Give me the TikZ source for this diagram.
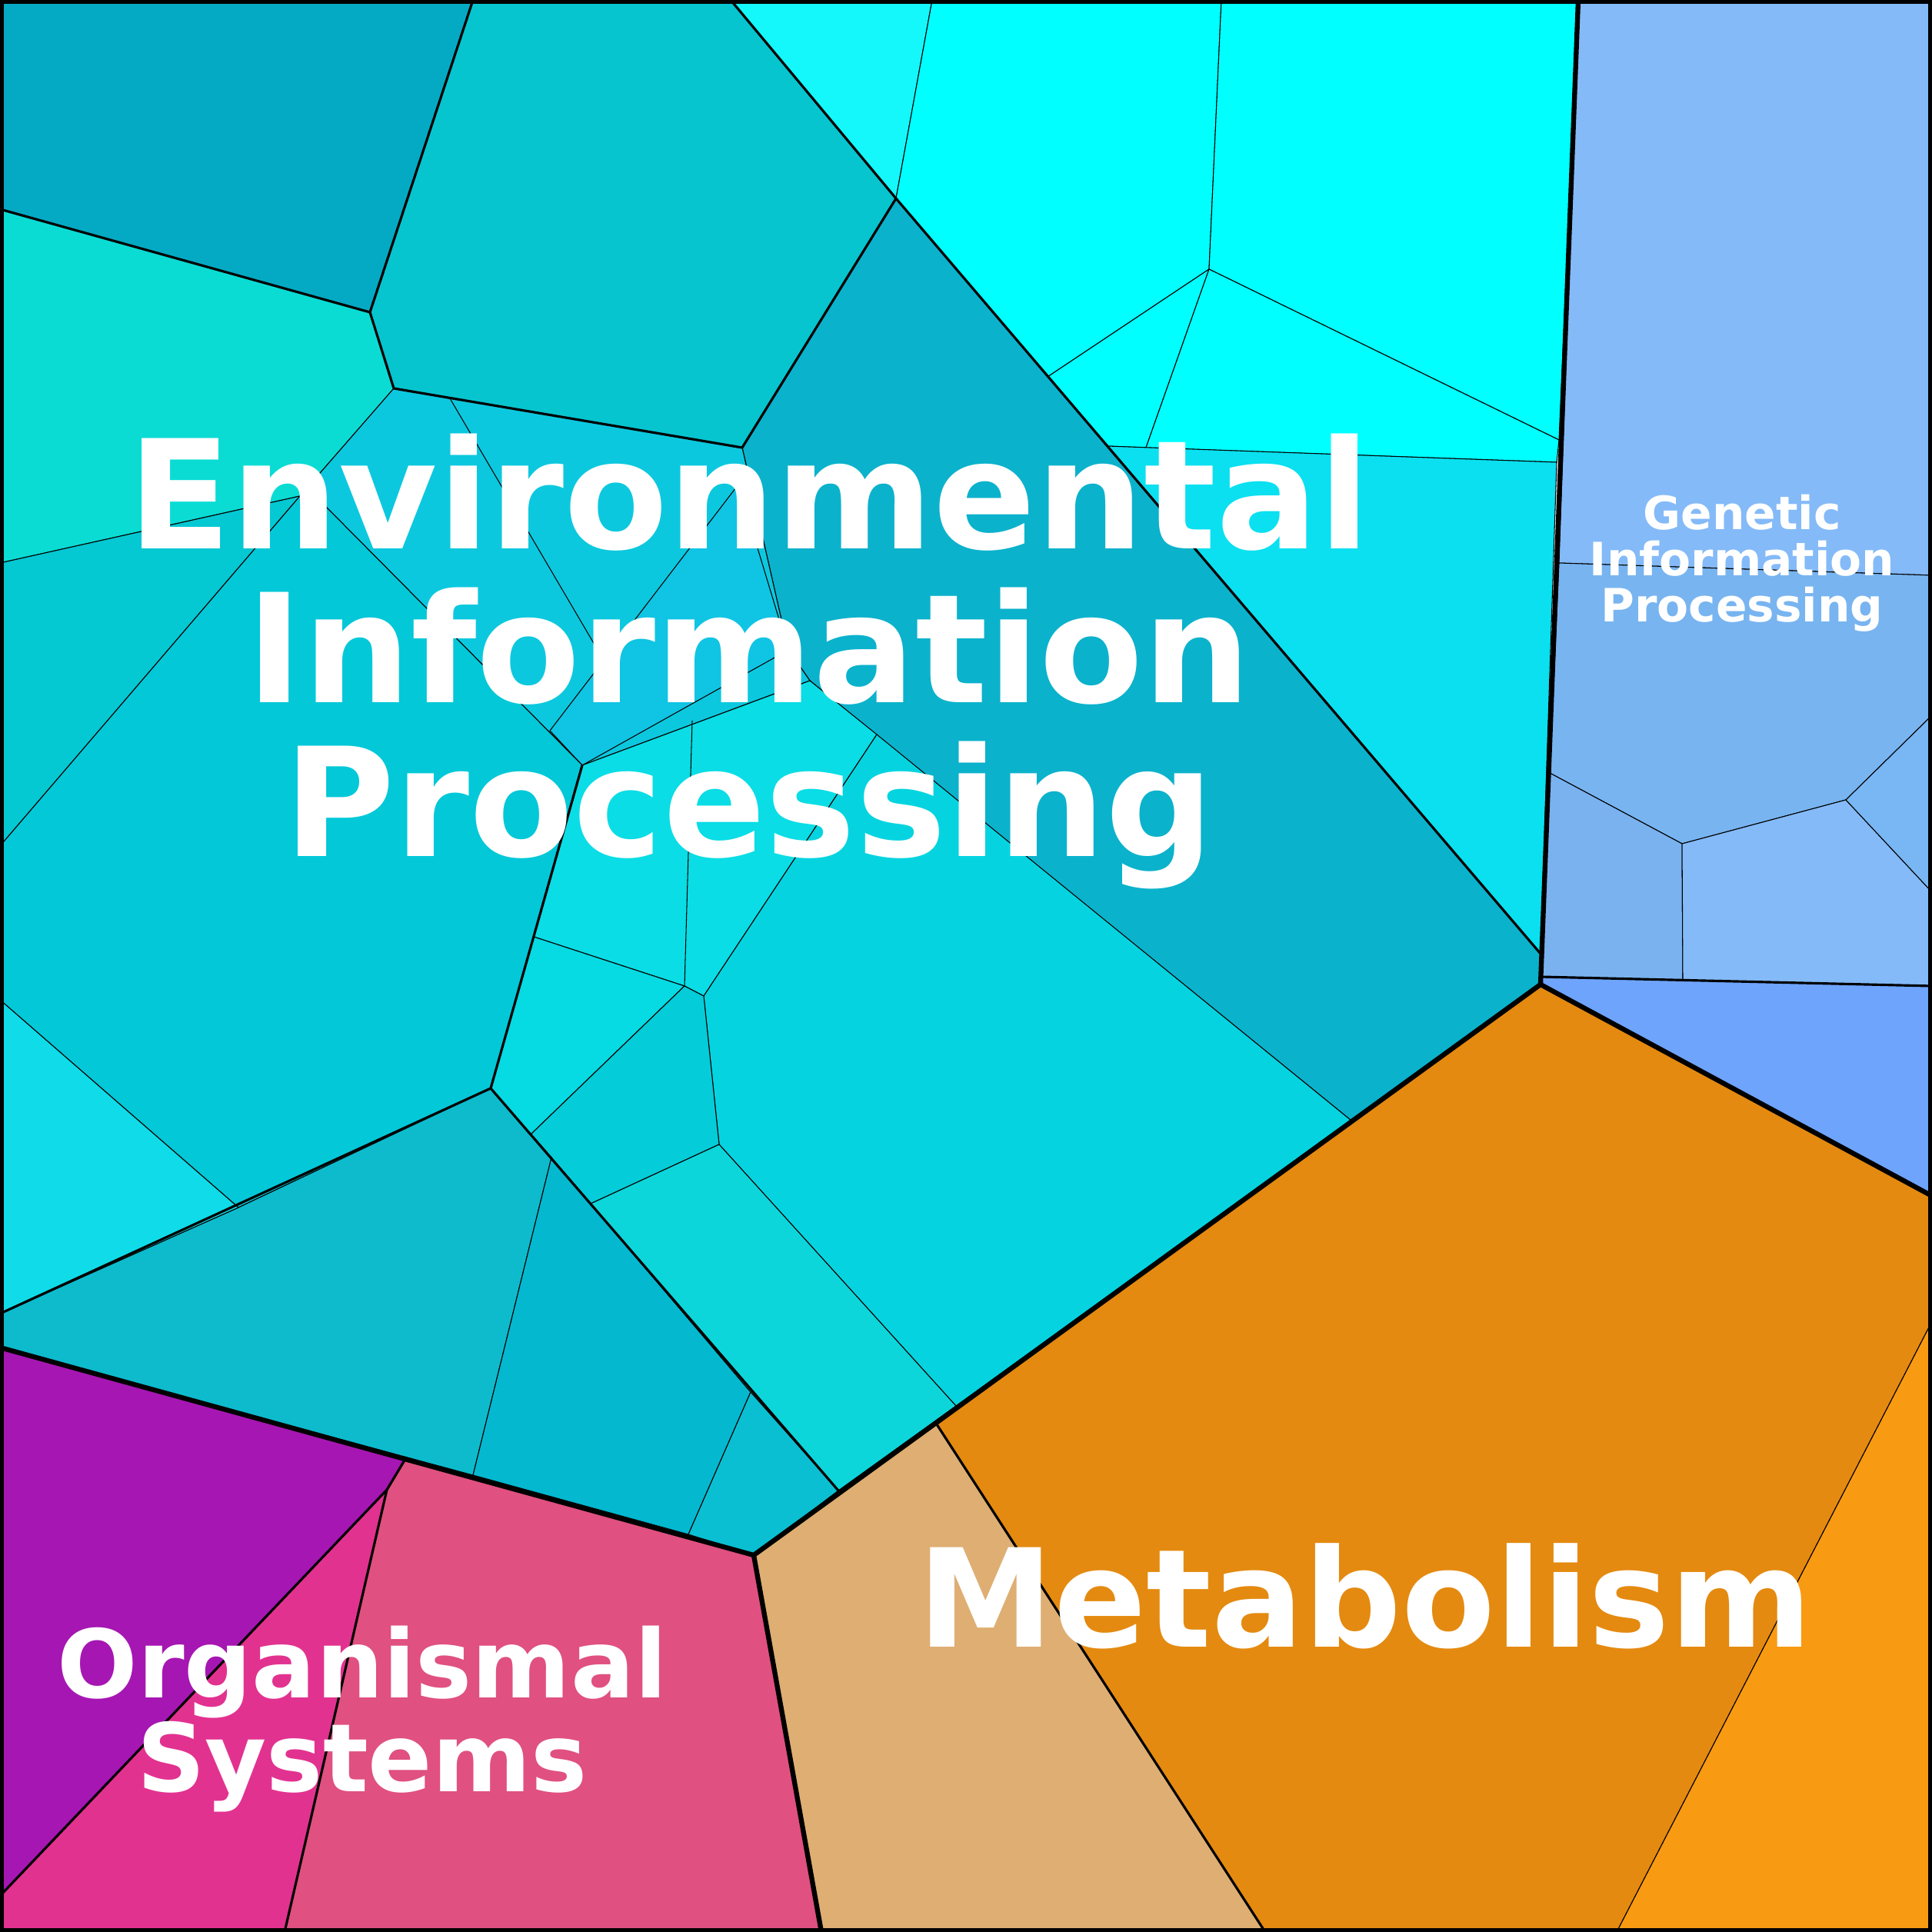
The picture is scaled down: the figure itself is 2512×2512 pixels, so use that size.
\documentclass[tikz,border=0pt]{standalone}
\usepackage{fontspec}
\setmainfont{DejaVu Sans}
\definecolor{aqua}{RGB}{0,255,255}
\tikzset{
  cell/.style={draw=black, line width=0.3pt},
  group/.style={draw=black, line width=1.8pt, line join=round},
  sub/.style={draw=black, line width=0.9pt},
  title/.style={text=white, font=\bfseries, align=center, inner sep=0pt}
}
\begin{document}
\begin{tikzpicture}
  [x=0.1mm, y=-0.1mm]
  \useasboundingbox (0,0) rectangle (2512,2512);
  % environmental information processing
  \fill[cell, fill={rgb,255:red,4;green,170;blue,196}] (0,0) -- (615,0) -- (481,406) -- (0,272) -- cycle;
  \fill[cell, fill={rgb,255:red,6;green,197;blue,207}] (615,0) -- (950,0) -- (1165,258) -- (965,582) -- (512,505) -- (481,406) -- cycle;
  \fill[cell, fill={rgb,255:red,20;green,247;blue,251}] (950,0) -- (1212,0) -- (1165,258) -- cycle;
  \fill[cell, fill=aqua] (1212,0) -- (1588,0) -- (1572,350) -- (1362,490) -- (1165,258) -- cycle;
  \fill[cell, fill=aqua] (1588,0) -- (2052,0) -- (2027,572) -- (1572,350) -- cycle;
  \fill[cell, fill=aqua] (1362,490) -- (1572,350) -- (1490,582) -- (1440,580) -- cycle;
  \fill[cell, fill=aqua] (1572,350) -- (2027,572) -- (2024,601) -- (1490,582) -- cycle;
  \fill[cell, fill={rgb,255:red,10;green,224;blue,240}] (1440,580) -- (2024,601) -- (2003,1240) -- cycle;
  \fill[cell, fill={rgb,255:red,11;green,178;blue,204}] (1165,258) -- (2003,1240) -- (2003,1280) -- (1757,1457) -- (1053,885) -- (1025,845) -- (965,582) -- cycle;
  \fill[cell, fill={rgb,255:red,10;green,220;blue,212}] (0,272) -- (481,406) -- (512,505) -- (390,645) -- (0,732) -- cycle;
  \fill[cell, fill={rgb,255:red,4;green,200;blue,210}] (0,732) -- (390,645) -- (0,1100) -- cycle;
  \fill[cell, fill={rgb,255:red,12;green,200;blue,222}] (512,505) -- (965,582) -- (1025,845) -- (1053,885) -- (757,995) -- (420,655) -- (390,645) -- cycle;
  \fill[cell, fill={rgb,255:red,16;green,196;blue,228}] (960,630) -- (1025,845) -- (757,995) -- (715,950) -- cycle;
  \draw[cell] (585,518) -- (780,850);
  \fill[cell, fill={rgb,255:red,3;green,200;blue,216}] (390,645) -- (420,655) -- (757,995) -- (694,1218) -- (638,1415) -- (310,1570) -- (0,1300) -- (0,1100) -- cycle;
  \fill[cell, fill={rgb,255:red,10;green,221;blue,229}] (757,995) -- (1053,885) -- (1140,955) -- (915,1295) -- (890,1282) -- (694,1218) -- cycle;
  \draw[cell] (900,937) -- (890,1282);
  \fill[cell, fill={rgb,255:red,5;green,212;blue,224}] (1140,955) -- (1757,1457) -- (1243,1828) -- (935,1488) -- (915,1295) -- cycle;
  \fill[cell, fill={rgb,255:red,6;green,218;blue,226}] (694,1218) -- (890,1282) -- (690,1475) -- (638,1415) -- cycle;
  \fill[cell, fill={rgb,255:red,4;green,204;blue,216}] (890,1282) -- (915,1295) -- (935,1488) -- (768,1565) -- (690,1475) -- cycle;
  \fill[cell, fill={rgb,255:red,13;green,187;blue,204}] (638,1415) -- (717,1505) -- (615,1918) -- (0,1752) -- (0,1708) -- (310,1570) -- cycle;
  \fill[cell, fill={rgb,255:red,15;green,220;blue,232}] (0,1300) -- (310,1570) -- (0,1708) -- cycle;
  \fill[cell, fill={rgb,255:red,4;green,184;blue,208}] (717,1505) -- (768,1565) -- (976,1810) -- (895,1995) -- (615,1918) -- cycle;
  \fill[cell, fill={rgb,255:red,13;green,214;blue,219}] (768,1565) -- (935,1488) -- (1243,1828) -- (1090,1938) -- (976,1810) -- cycle;
  \fill[cell, fill={rgb,255:red,11;green,191;blue,210}] (976,1810) -- (1090,1938) -- (980,2022) -- (895,1995) -- cycle;
  \draw[sub] (950,0) -- (1165,258) -- (2003,1240);
  \draw[sub] (1165,258) -- (965,582) -- (512,505) -- (481,406) -- (615,0);
  \draw[sub] (0,272) -- (481,406);
  \draw[sub] (757,995) -- (638,1415) -- (1090,1938);
  \draw[sub] (0,1708) -- (638,1415);
  % genetic information processing
  \fill[cell, fill={rgb,255:red,132;green,186;blue,248}] (2052,0) -- (2512,0) -- (2512,748) -- (2027,732) -- cycle;
  \fill[cell, fill={rgb,255:red,120;green,180;blue,240}] (2027,732) -- (2512,748) -- (2512,930) -- (2400,1040) -- (2187,1097) -- (2015,1005) -- cycle;
  \fill[cell, fill={rgb,255:red,122;green,178;blue,240}] (2015,1005) -- (2187,1097) -- (2188,1275) -- (2003,1270) -- cycle;
  \fill[cell, fill={rgb,255:red,132;green,186;blue,248}] (2187,1097) -- (2400,1040) -- (2512,1160) -- (2512,1282) -- (2188,1275) -- cycle;
  \fill[cell, fill={rgb,255:red,120;green,182;blue,244}] (2400,1040) -- (2512,930) -- (2512,1160) -- cycle;
  \fill[cell, fill={rgb,255:red,110;green,164;blue,252}] (2003,1270) -- (2512,1282) -- (2512,1555) -- (2003,1280) -- cycle;
  \draw[sub] (2003,1270) -- (2512,1282);
  % metabolism
  \fill[cell, fill={rgb,255:red,222;green,174;blue,114}] (980,2022) -- (1218,1852) -- (1645,2512) -- (1068,2512) -- cycle;
  \fill[cell, fill={rgb,255:red,228;green,138;blue,16}] (1218,1852) -- (2003,1280) -- (2512,1555) -- (2512,1718) -- (2102,2512) -- (1645,2512) -- cycle;
  \fill[cell, fill={rgb,255:red,248;green,154;blue,18}] (2512,1718) -- (2512,2512) -- (2102,2512) -- cycle;
  \draw[sub] (1218,1852) -- (1645,2512);
  % organismal systems
  \fill[cell, fill={rgb,255:red,166;green,22;blue,178}] (0,1752) -- (527,1897) -- (503,1937) -- (0,2465) -- cycle;
  \fill[cell, fill={rgb,255:red,226;green,50;blue,144}] (503,1937) -- (370,2512) -- (0,2512) -- (0,2465) -- cycle;
  \fill[cell, fill={rgb,255:red,224;green,80;blue,128}] (527,1897) -- (980,2022) -- (1068,2512) -- (370,2512) -- (503,1937) -- cycle;
  \draw[sub] (527,1897) -- (503,1937) -- (0,2465);
  \draw[sub] (503,1937) -- (370,2512);
  % group borders
  \draw[group] (0,1752) -- (980,2022) -- (2003,1280) -- (2052,0);
  \draw[group] (980,2022) -- (1068,2512);
  \draw[group] (2003,1280) -- (2512,1555);
  \draw[black, line width=2.8pt] (0,0) rectangle (2512,2512);
  % labels
  \node[title, font=\bfseries\fontsize{56}{57}\selectfont] (env) at (974,860) {Environmental\\Information\\Processing};
  \node[title, font=\bfseries\fontsize{17}{17}\selectfont] (gen) at (2265,732) {Genetic\\Information\\Processing};
  \node[title, font=\bfseries\fontsize{50.5}{50}\selectfont] (met) at (1775,2075) {Metabolism};
  \node[title, font=\bfseries\fontsize{35}{32.5}\selectfont] (org) at (471,2235) {Organismal\\Systems};
\end{tikzpicture}
\end{document}
